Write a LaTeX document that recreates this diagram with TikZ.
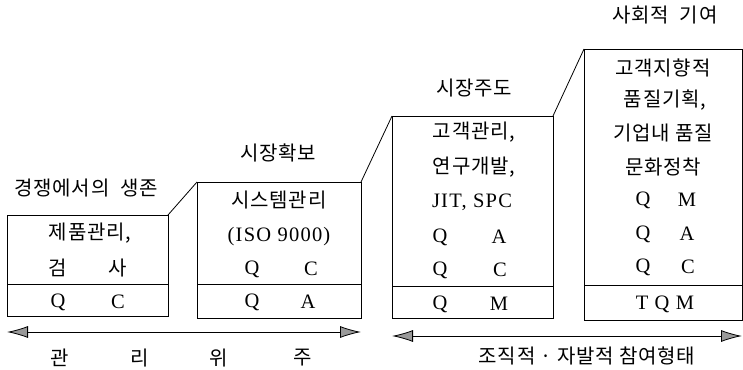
\documentclass[tikz,border=0pt]{standalone}
\usepackage{fontspec}
\setmainfont{Liberation Serif}[LetterSpace=6]
\newfontfamily\kr{Noto Sans CJK KR}[LetterSpace=4]
\usetikzlibrary{arrows.meta}
\tikzset{
  boxpart/.style={draw, line width=0.8pt, rectangle, inner sep=0pt, outer sep=0pt, anchor=north west},
  kt/.style={inner sep=0pt, font=\kr\fontsize{20}{20}\selectfont},
  lt/.style={inner sep=0pt, font=\fontsize{20.5}{20}\selectfont},
  conn/.style={line width=0.8pt},
  bigarrow/.style={line width=0.8pt, {Latex[length=21pt,width=12pt,fill=gray!80]}-{Latex[length=21pt,width=12pt,fill=gray!80]}}
}
\begin{document}
\begin{tikzpicture}[x=1pt,y=-1pt]
\useasboundingbox (0,0) rectangle (743,369);
% boxes
\node[boxpart, minimum width=161pt, minimum height=69pt] (b1u) at (7,215) {};
\node[boxpart, minimum width=161pt, minimum height=32pt] (b1l) at (7,284) {};
\node[boxpart, minimum width=164pt, minimum height=102pt] (b2u) at (197,182) {};
\node[boxpart, minimum width=164pt, minimum height=34pt] (b2l) at (197,284) {};
\node[boxpart, minimum width=161pt, minimum height=170pt] (b3u) at (392,116) {};
\node[boxpart, minimum width=161pt, minimum height=32pt] (b3l) at (392,286) {};
\node[boxpart, minimum width=158pt, minimum height=236pt] (b4u) at (584,49) {};
\node[boxpart, minimum width=158pt, minimum height=35pt] (b4l) at (584,285) {};
% slanted connectors
\draw[conn] (b1u.north east) -- (b2u.north west);
\draw[conn] (b2u.north east) -- (b3u.north west);
\draw[conn] (b3u.north east) -- (b4u.north west);
% titles
\node[kt] (t1) at (86,188) {경쟁에서의\ \ 생존};
\node[kt] (t2) at (278,153) {시장확보};
\node[kt] (t3) at (474,88) {시장주도};
\node[kt] (t4) at (665,15) {사회적\ \ 기여};
% box 1
\node[kt] (b1a) at (90,233) {제품관리,};
\node[kt] (b1b) at (58,268) {검};
\node[kt] (b1c) at (118,268) {사};
\node[lt] (b1q) at (58,302) {Q};
\node[lt] (b1r) at (118,302) {C};
% box 2
\node[kt] (b2a) at (279,200) {시스템관리};
\node[lt] (b2b) at (279,237) {(ISO 9000)};
\node[lt] (b2c) at (252,269) {Q};
\node[lt] (b2d) at (311,269) {C};
\node[lt] (b2e) at (252,302) {Q};
\node[lt] (b2f) at (308,302) {A};
% box 3
\node[kt] (b3a) at (474,132) {고객관리,};
\node[kt] (b3b) at (474,167) {연구개발,};
\node[lt] (b3c) at (472,202) {JIT, SPC};
\node[lt] (b3d) at (440,237) {Q};
\node[lt] (b3e) at (499,237) {A};
\node[lt] (b3f) at (440,270) {Q};
\node[lt] (b3g) at (500,270) {C};
\node[lt] (b3h) at (440,304) {Q};
\node[lt] (b3i) at (499,304) {M};
% box 4
\node[kt] (b4a) at (663,68) {고객지향적};
\node[kt] (b4b) at (665,100) {품질기획,};
\node[kt] (b4c) at (663,133) {기업내\ 품질};
\node[kt] (b4d) at (663,167) {문화정착};
\node[lt] (b4e) at (643,200) {Q};
\node[lt] (b4f) at (687,200) {M};
\node[lt] (b4g) at (643,234) {Q};
\node[lt] (b4h) at (687,234) {A};
\node[lt] (b4i) at (643,267) {Q};
\node[lt] (b4j) at (688,267) {C};
\node[lt] (b4k) at (665,304) {T\ Q\ M};
% arrows
\coordinate (a1l) at (7,332);
\coordinate (a1r) at (361,332);
\coordinate (a2l) at (392,336);
\coordinate (a2r) at (742,336);
\draw[bigarrow] (a1l) -- (a1r);
\draw[bigarrow] (a2l) -- (a2r);
% bottom texts
\node[kt] (m1) at (60,358) {관};
\node[kt] (m2) at (140,358) {리};
\node[kt] (m3) at (219,358) {위};
\node[kt] (m4) at (303,358) {주};
\node[kt] (m5) at (587,356) {조직적 · 자발적\ 참여형태};
\end{tikzpicture}
\end{document}
